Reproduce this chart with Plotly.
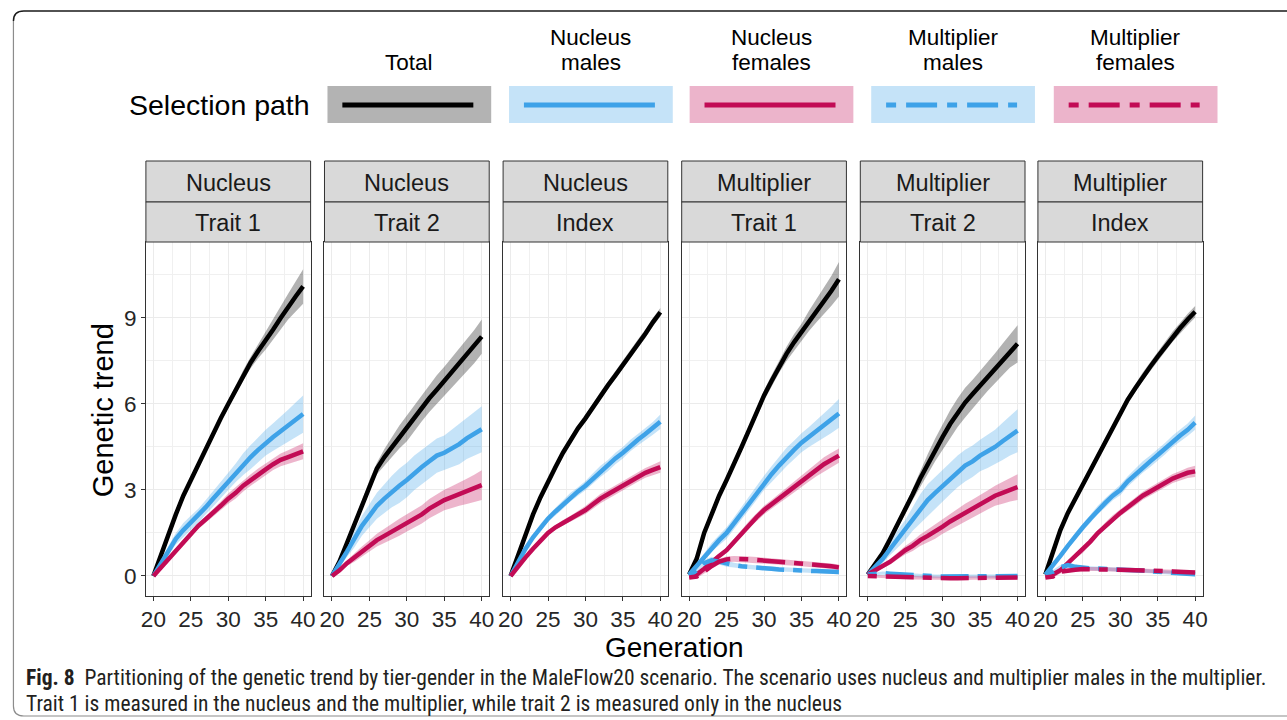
import plotly.graph_objects as go

W, H = 1287, 720

# ---------------- data ----------------
GEN = list(range(20, 41))
TIERS = ["Nucleus", "Nucleus", "Nucleus", "Multiplier", "Multiplier", "Multiplier"]
TRAITS = ["Trait 1", "Trait 2", "Index", "Trait 1", "Trait 2", "Index"]
X_TICKS = [20, 25, 30, 35, 40]
Y_TICKS = [0, 3, 6, 9]
PATH_NAMES = ["Total", "Nucleus males", "Nucleus females", "Multiplier males", "Multiplier females"]
PATH_LABEL_L1 = ["", "Nucleus", "Nucleus", "Multiplier", "Multiplier"]
PATH_LABEL_L2 = ["Total", "males", "females", "males", "females"]

TOTAL = [
    [0, 0.75, 1.5, 2.15, 2.8, 3.35, 3.9, 4.45, 5.0, 5.5, 6.0, 6.5, 7.0, 7.45, 7.85, 8.2, 8.6, 9.0, 9.4, 9.75, 10.1],
    [0, 0.5, 1.15, 1.8, 2.5, 3.2, 3.75, 4.15, 4.5, 4.85, 5.15, 5.5, 5.85, 6.2, 6.5, 6.8, 7.1, 7.4, 7.7, 8.0, 8.35],
    [0, 0.75, 1.5, 2.15, 2.75, 3.3, 3.8, 4.3, 4.75, 5.15, 5.5, 5.9, 6.3, 6.65, 7.0, 7.35, 7.75, 8.1, 8.45, 8.85, 9.2],
    [0.05, 0.6, 1.5, 2.2, 2.8, 3.35, 3.9, 4.5, 5.1, 5.7, 6.3, 6.8, 7.3, 7.75, 8.15, 8.5, 8.9, 9.25, 9.6, 9.95, 10.35],
    [0.05, 0.4, 0.8, 1.3, 1.8, 2.3, 2.85, 3.4, 3.9, 4.4, 4.85, 5.3, 5.7, 6.05, 6.35, 6.65, 6.95, 7.25, 7.55, 7.85, 8.1],
    [0.05, 0.85, 1.6, 2.2, 2.7, 3.2, 3.7, 4.2, 4.7, 5.2, 5.7, 6.15, 6.55, 6.95, 7.3, 7.65, 8.0, 8.35, 8.65, 8.95, 9.22],
]
TOTAL_HW = [
    [0.02, 0.05, 0.08, 0.1, 0.12, 0.12, 0.12, 0.12, 0.12, 0.12, 0.12, 0.15, 0.18, 0.2, 0.25, 0.3, 0.35, 0.4, 0.45, 0.52, 0.6],
    [0.02, 0.05, 0.08, 0.1, 0.12, 0.15, 0.2, 0.28, 0.35, 0.4, 0.45, 0.45, 0.45, 0.48, 0.5, 0.5, 0.52, 0.55, 0.56, 0.58, 0.6],
    [0.02, 0.05, 0.08, 0.1, 0.1, 0.1, 0.1, 0.1, 0.1, 0.1, 0.12, 0.12, 0.12, 0.14, 0.16, 0.16, 0.16, 0.15, 0.15, 0.15, 0.15],
    [0.05, 0.08, 0.1, 0.1, 0.1, 0.1, 0.1, 0.1, 0.12, 0.15, 0.18, 0.2, 0.22, 0.25, 0.28, 0.3, 0.35, 0.4, 0.45, 0.52, 0.6],
    [0.03, 0.05, 0.08, 0.1, 0.12, 0.15, 0.2, 0.28, 0.35, 0.4, 0.45, 0.48, 0.5, 0.52, 0.5, 0.5, 0.5, 0.52, 0.55, 0.58, 0.65],
    [0.03, 0.05, 0.08, 0.1, 0.1, 0.1, 0.1, 0.1, 0.1, 0.1, 0.12, 0.12, 0.14, 0.15, 0.16, 0.16, 0.17, 0.18, 0.18, 0.2, 0.2],
]
NUC_MALES = [
    [0, 0.45, 0.9, 1.3, 1.6, 1.85, 2.1, 2.4, 2.7, 3.0, 3.3, 3.6, 3.9, 4.15, 4.4, 4.65, 4.85, 5.05, 5.25, 5.45, 5.65],
    [0, 0.4, 0.85, 1.3, 1.75, 2.1, 2.45, 2.7, 2.95, 3.15, 3.35, 3.6, 3.8, 4.0, 4.2, 4.3, 4.45, 4.6, 4.8, 4.95, 5.12],
    [0, 0.5, 0.95, 1.35, 1.7, 2.0, 2.25, 2.5, 2.75, 2.95, 3.15, 3.4, 3.65, 3.85, 4.1, 4.3, 4.55, 4.75, 4.95, 5.15, 5.38],
    [0.05, 0.35, 0.7, 1.0, 1.25, 1.5, 1.85, 2.2, 2.55, 2.9, 3.25, 3.55, 3.85, 4.15, 4.4, 4.65, 4.85, 5.05, 5.25, 5.45, 5.67],
    [0.05, 0.3, 0.6, 0.95, 1.3, 1.6, 2.0, 2.35, 2.65, 2.9, 3.15, 3.4, 3.65, 3.85, 4.0, 4.2, 4.35, 4.5, 4.7, 4.9, 5.07],
    [0.05, 0.35, 0.7, 1.05, 1.4, 1.7, 2.0, 2.3, 2.55, 2.8, 3.0, 3.3, 3.55, 3.8, 4.0, 4.22, 4.45, 4.7, 4.9, 5.1, 5.35],
]
NUC_MALES_HW = [
    [0.02, 0.08, 0.15, 0.2, 0.25, 0.25, 0.25, 0.25, 0.28, 0.3, 0.3, 0.32, 0.38, 0.42, 0.45, 0.45, 0.48, 0.5, 0.55, 0.6, 0.65],
    [0.02, 0.1, 0.2, 0.3, 0.35, 0.4, 0.45, 0.5, 0.55, 0.6, 0.6, 0.6, 0.6, 0.6, 0.6, 0.6, 0.65, 0.7, 0.72, 0.75, 0.8],
    [0.02, 0.05, 0.08, 0.1, 0.12, 0.12, 0.14, 0.15, 0.15, 0.15, 0.16, 0.18, 0.2, 0.2, 0.2, 0.2, 0.2, 0.2, 0.2, 0.22, 0.25],
    [0.03, 0.08, 0.12, 0.15, 0.18, 0.2, 0.2, 0.22, 0.24, 0.25, 0.25, 0.28, 0.3, 0.32, 0.32, 0.33, 0.35, 0.38, 0.42, 0.46, 0.5],
    [0.03, 0.08, 0.15, 0.22, 0.3, 0.35, 0.42, 0.5, 0.55, 0.55, 0.55, 0.55, 0.55, 0.55, 0.55, 0.55, 0.58, 0.6, 0.65, 0.7, 0.75],
    [0.03, 0.05, 0.08, 0.1, 0.12, 0.12, 0.14, 0.15, 0.16, 0.16, 0.18, 0.18, 0.18, 0.2, 0.2, 0.2, 0.2, 0.2, 0.22, 0.22, 0.25],
]
NUC_FEMALES = [
    [0, 0.3, 0.6, 0.9, 1.2, 1.5, 1.75, 1.98, 2.2, 2.45, 2.7, 2.9, 3.15, 3.35, 3.55, 3.72, 3.9, 4.05, 4.15, 4.25, 4.35],
    [0, 0.2, 0.45, 0.65, 0.85, 1.05, 1.25, 1.4, 1.55, 1.7, 1.85, 2.0, 2.15, 2.35, 2.5, 2.65, 2.75, 2.85, 2.95, 3.05, 3.17],
    [0, 0.35, 0.65, 0.95, 1.25, 1.5, 1.7, 1.85, 2.0, 2.15, 2.3, 2.5, 2.7, 2.85, 3.0, 3.15, 3.3, 3.45, 3.6, 3.7, 3.8],
    [0.0, 0.05, 0.25, 0.5, 0.7, 0.9, 1.2, 1.5, 1.8, 2.05, 2.3, 2.5, 2.7, 2.9, 3.1, 3.3, 3.5, 3.7, 3.9, 4.05, 4.2],
    [0.05, 0.2, 0.35, 0.5, 0.7, 0.9, 1.05, 1.25, 1.4, 1.55, 1.72, 1.9, 2.05, 2.2, 2.35, 2.5, 2.65, 2.8, 2.9, 3.0, 3.1],
    [0.0, 0.05, 0.2, 0.45, 0.7, 0.9, 1.2, 1.5, 1.75, 2.0, 2.2, 2.4, 2.6, 2.8, 2.95, 3.1, 3.25, 3.4, 3.5, 3.6, 3.65],
]
NUC_FEMALES_HW = [
    [0.02, 0.05, 0.08, 0.08, 0.08, 0.08, 0.08, 0.1, 0.12, 0.15, 0.18, 0.2, 0.2, 0.2, 0.2, 0.2, 0.2, 0.22, 0.24, 0.26, 0.28],
    [0.02, 0.05, 0.1, 0.15, 0.18, 0.2, 0.22, 0.25, 0.28, 0.3, 0.3, 0.3, 0.32, 0.34, 0.35, 0.36, 0.38, 0.4, 0.44, 0.48, 0.52],
    [0.02, 0.04, 0.06, 0.08, 0.08, 0.08, 0.08, 0.1, 0.1, 0.12, 0.14, 0.15, 0.16, 0.16, 0.16, 0.16, 0.16, 0.16, 0.17, 0.18, 0.2],
    [0.03, 0.05, 0.06, 0.08, 0.08, 0.1, 0.1, 0.12, 0.12, 0.14, 0.15, 0.15, 0.16, 0.18, 0.18, 0.2, 0.2, 0.22, 0.24, 0.25, 0.25],
    [0.03, 0.05, 0.08, 0.1, 0.12, 0.15, 0.18, 0.2, 0.22, 0.25, 0.25, 0.28, 0.3, 0.32, 0.32, 0.32, 0.33, 0.35, 0.38, 0.4, 0.45],
    [0.03, 0.04, 0.06, 0.08, 0.08, 0.1, 0.1, 0.1, 0.12, 0.12, 0.12, 0.12, 0.14, 0.14, 0.15, 0.15, 0.15, 0.16, 0.16, 0.18, 0.2],
]
# multiplier paths only exist in the multiplier-tier panels (None = not present)
MULT_MALES = [
    None, None, None,
    [0.0, 0.2, 0.45, 0.55, 0.5, 0.42, 0.38, 0.34, 0.31, 0.29, 0.27, 0.25, 0.23, 0.21, 0.2, 0.19, 0.18, 0.17, 0.16, 0.15, 0.14],
    [0.05, 0.08, 0.1, 0.08, 0.06, 0.05, 0.03, 0.01, 0.0, -0.01, -0.02, -0.02, -0.02, -0.01, -0.01, 0.0, 0.0, 0.0, 0.0, 0.0, 0.0],
    [0.05, 0.15, 0.3, 0.38, 0.32, 0.28, 0.27, 0.26, 0.24, 0.23, 0.22, 0.21, 0.2, 0.18, 0.16, 0.14, 0.13, 0.11, 0.09, 0.07, 0.06],
]
MULT_MALES_HW = [
    None, None, None,
    [0.05, 0.08, 0.1, 0.12, 0.1, 0.1, 0.08, 0.08, 0.08, 0.08, 0.08, 0.08, 0.08, 0.08, 0.08, 0.08, 0.08, 0.08, 0.08, 0.08, 0.08],
    [0.04, 0.05, 0.06, 0.06, 0.06, 0.06, 0.06, 0.06, 0.06, 0.06, 0.06, 0.06, 0.06, 0.06, 0.06, 0.06, 0.06, 0.06, 0.06, 0.06, 0.06],
    [0.04, 0.06, 0.08, 0.1, 0.08, 0.07, 0.07, 0.07, 0.07, 0.07, 0.07, 0.07, 0.07, 0.07, 0.07, 0.07, 0.07, 0.07, 0.07, 0.07, 0.07],
]
MULT_FEMALES = [
    None, None, None,
    [-0.05, -0.02, 0.15, 0.35, 0.5, 0.58, 0.6, 0.6, 0.58, 0.56, 0.54, 0.52, 0.5, 0.48, 0.46, 0.44, 0.42, 0.4, 0.37, 0.34, 0.3],
    [0.0, -0.01, -0.02, -0.03, -0.04, -0.05, -0.06, -0.07, -0.08, -0.08, -0.08, -0.08, -0.08, -0.08, -0.07, -0.07, -0.06, -0.06, -0.05, -0.05, -0.05],
    [-0.05, -0.02, 0.15, 0.2, 0.22, 0.24, 0.24, 0.24, 0.23, 0.23, 0.22, 0.21, 0.2, 0.2, 0.19, 0.18, 0.17, 0.16, 0.14, 0.13, 0.12],
]
MULT_FEMALES_HW = [
    None, None, None,
    [0.05, 0.06, 0.08, 0.1, 0.1, 0.1, 0.1, 0.1, 0.1, 0.1, 0.1, 0.1, 0.1, 0.1, 0.1, 0.1, 0.1, 0.1, 0.1, 0.1, 0.1],
    [0.04, 0.05, 0.06, 0.06, 0.06, 0.06, 0.06, 0.06, 0.06, 0.06, 0.06, 0.06, 0.06, 0.06, 0.06, 0.06, 0.06, 0.06, 0.06, 0.06, 0.06],
    [0.04, 0.05, 0.06, 0.07, 0.07, 0.07, 0.07, 0.07, 0.07, 0.07, 0.07, 0.07, 0.07, 0.07, 0.07, 0.07, 0.07, 0.07, 0.07, 0.07, 0.07],
]

CAPTION_1 = ("Partitioning of the genetic trend by tier-gender in the MaleFlow20 scenario. "
             "The scenario uses nucleus and multiplier males in the multiplier.")
CAPTION_2 = "Trait 1 is measured in the nucleus and the multiplier, while trait 2 is measured only in the nucleus"

# ---------------- styling ----------------
FONT = "Liberation Sans, Arial, Helvetica, sans-serif"
LINE_COLORS = ["#000000", "#3ea2e8", "#c20b55", "#3ea2e8", "#c20b55"]
FILL_COLORS = ["rgba(0,0,0,0.3)", "rgba(62,162,232,0.3)", "rgba(194,11,85,0.3)",
               "rgba(62,162,232,0.3)", "rgba(194,11,85,0.3)"]
LEGEND_BOX = ["#b3b3b3", "#c5e3f8", "#ecb4cb", "#c5e3f8", "#ecb4cb"]
PANEL_DASH = "9px,9px,28px,9px"
LEG_DASH = "10px,10px,31px,10px"
DASHES = ["solid", "solid", "solid", PANEL_DASH, PANEL_DASH]

PANEL_X0 = [142, 322, 502, 682, 862, 1041]
PANEL_W = 166
PLOT_TOP, PLOT_BOT = 242, 596
STRIP_TOP, STRIP_MID = 161, 202


def px(x):
    return x / W


def py(y):
    return 1 - y / H


fig = go.Figure()

series_vals = [TOTAL, NUC_MALES, NUC_FEMALES, MULT_MALES, MULT_FEMALES]
series_hw = [TOTAL_HW, NUC_MALES_HW, NUC_FEMALES_HW, MULT_MALES_HW, MULT_FEMALES_HW]

for p in range(6):
    xa = "x" if p == 0 else f"x{p+1}"
    ya = "y" if p == 0 else f"y{p+1}"
    # ribbons first
    for s in range(5):
        vals = series_vals[s][p]
        if vals is None:
            continue
        hw = series_hw[s][p]
        upper = [v + h for v, h in zip(vals, hw)]
        lower = [v - h for v, h in zip(vals, hw)]
        fig.add_trace(go.Scatter(
            x=GEN + GEN[::-1], y=upper + lower[::-1], fill="toself",
            fillcolor=FILL_COLORS[s], line=dict(width=0), mode="lines",
            hoverinfo="skip", showlegend=False, xaxis=xa, yaxis=ya))
    for s in range(5):
        vals = series_vals[s][p]
        if vals is None:
            continue
        fig.add_trace(go.Scatter(
            x=GEN, y=vals, mode="lines", name=PATH_NAMES[s],
            line=dict(color=LINE_COLORS[s], width=4.5, dash=DASHES[s]),
            showlegend=False, xaxis=xa, yaxis=ya))

layout = dict(
    width=W, height=H, autosize=False,
    margin=dict(l=0, r=0, t=0, b=0),
    paper_bgcolor="white", plot_bgcolor="white",
    font=dict(family=FONT, color="#000000"),
    showlegend=False,
)

for p in range(6):
    key_x = "xaxis" if p == 0 else f"xaxis{p+1}"
    key_y = "yaxis" if p == 0 else f"yaxis{p+1}"
    anchor_x = "y" if p == 0 else f"y{p+1}"
    anchor_y = "x" if p == 0 else f"x{p+1}"
    layout[key_x] = dict(
        domain=[px(PANEL_X0[p]), px(PANEL_X0[p] + PANEL_W)], anchor=anchor_x,
        range=[19, 41], tickvals=X_TICKS, ticktext=[str(t) for t in X_TICKS],
        ticks="outside", ticklen=4, tickwidth=1, tickcolor="#333333",
        ticklabelstandoff=-1,
        tickfont=dict(size=22.5, color="#262626", family=FONT),
        showgrid=True, gridcolor="#ebebeb", gridwidth=1.2,
        minor=dict(tickvals=[22.5, 27.5, 32.5, 37.5], showgrid=True,
                   gridcolor="#f0f0f0", gridwidth=0.6, ticks=""),
        showline=True, mirror=True, linecolor="#333333", linewidth=1,
        zeroline=False, fixedrange=True,
    )
    layout[key_y] = dict(
        domain=[py(PLOT_BOT), py(PLOT_TOP)], anchor=anchor_y,
        range=[-0.698, 11.651], tickvals=Y_TICKS, ticktext=[str(t) for t in Y_TICKS],
        ticks="outside" if p == 0 else "", ticklen=4, tickwidth=1, tickcolor="#333333",
        showticklabels=(p == 0),
        tickfont=dict(size=22.5, color="#262626", family=FONT),
        showgrid=True, gridcolor="#ebebeb", gridwidth=1.2,
        minor=dict(tickvals=[1.5, 4.5, 7.5, 10.5], showgrid=True,
                   gridcolor="#f0f0f0", gridwidth=0.6, ticks=""),
        showline=True, mirror=True, linecolor="#333333", linewidth=1,
        zeroline=False, fixedrange=True,
    )

shapes = []
annotations = []

# strips
for p in range(6):
    x0, x1 = PANEL_X0[p], PANEL_X0[p] + PANEL_W
    for (t, b, label) in [(STRIP_TOP, STRIP_MID, TIERS[p]), (STRIP_MID, PLOT_TOP, TRAITS[p])]:
        shapes.append(dict(type="rect", xref="paper", yref="paper",
                           x0=px(x0), x1=px(x1), y0=py(b), y1=py(t),
                           fillcolor="#d9d9d9", line=dict(color="#333333", width=1), layer="above"))
        annotations.append(dict(text=label, xref="paper", yref="paper",
                                x=px((x0 + x1) / 2), y=py((t + b) / 2 + 1),
                                xanchor="center", yanchor="middle", showarrow=False,
                                font=dict(size=23.5, color="#1a1a1a", family=FONT)))

# legend
annotations.append(dict(text="Selection path", xref="paper", yref="paper",
                        x=px(309), y=py(105), xanchor="right", yanchor="middle",
                        showarrow=False, font=dict(size=28.5, color="#000000", family=FONT)))
LEG_X0 = [325, 508, 690, 873, 1057]
LEG_W = 165
for s in range(5):
    x0 = LEG_X0[s]
    x1 = x0 + LEG_W
    shapes.append(dict(type="rect", xref="paper", yref="paper",
                       x0=px(x0), x1=px(x1), y0=py(123), y1=py(86),
                       fillcolor=LEGEND_BOX[s], line=dict(width=0)))
    shapes.append(dict(type="line", xref="paper", yref="paper",
                       x0=px(x0 + 15), x1=px(x0 + 15 + 132), y0=py(105), y1=py(105),
                       line=dict(color=LINE_COLORS[s], width=5,
                                 dash="solid" if s < 3 else LEG_DASH)))
    cx = px(x0 + LEG_W / 2)
    if PATH_LABEL_L1[s]:
        annotations.append(dict(text=PATH_LABEL_L1[s], xref="paper", yref="paper",
                                x=cx, y=py(37), xanchor="center", yanchor="middle",
                                showarrow=False, font=dict(size=22.5, color="#000000", family=FONT)))
    annotations.append(dict(text=PATH_LABEL_L2[s], xref="paper", yref="paper",
                            x=cx, y=py(62), xanchor="center", yanchor="middle",
                            showarrow=False, font=dict(size=22.5, color="#000000", family=FONT)))

# axis titles
annotations.append(dict(text="Genetic trend", xref="paper", yref="paper",
                        x=px(99), y=py(410), xanchor="center", yanchor="middle", textangle=-90,
                        showarrow=False, font=dict(size=29, color="#000000", family=FONT)))
annotations.append(dict(text="Generation", xref="paper", yref="paper",
                        x=px(675), y=py(647), xanchor="center", yanchor="middle",
                        showarrow=False, font=dict(size=28, color="#000000", family=FONT)))

# caption
CAP_FONT = "Liberation Sans Narrow, Roboto Condensed, Liberation Sans, Arial, sans-serif"
annotations.append(dict(text="<b>Fig. 8</b>  " + CAPTION_1, xref="paper", yref="paper",
                        x=px(19), y=py(677), xanchor="left", yanchor="middle",
                        showarrow=False, font=dict(size=21.5, color="#231f20", family=CAP_FONT)))
annotations.append(dict(text=CAPTION_2, xref="paper", yref="paper",
                        x=px(19), y=py(703), xanchor="left", yanchor="middle",
                        showarrow=False, font=dict(size=21.5, color="#231f20", family=CAP_FONT)))

# outer rounded frame
top_path = f"M {px(1300)},{py(11)} L {px(19)},{py(11)} Q {px(8.5)},{py(11)} {px(8.5)},{py(21)}"
left_path = f"M {px(8.5)},{py(21)} L {px(8.5)},{py(706)} Q {px(8.5)},{py(716)} {px(19)},{py(716)} L {px(1300)},{py(716)}"
shapes.append(dict(type="path", xref="paper", yref="paper", path=top_path,
                   line=dict(color="#1a1a1a", width=1.5)))
shapes.append(dict(type="path", xref="paper", yref="paper", path=left_path,
                   line=dict(color="#8c8c8c", width=1.2)))

layout["shapes"] = shapes
layout["annotations"] = annotations
fig.update_layout(**layout)

fig.write_html("out.html", config={"displayModeBar": False})
